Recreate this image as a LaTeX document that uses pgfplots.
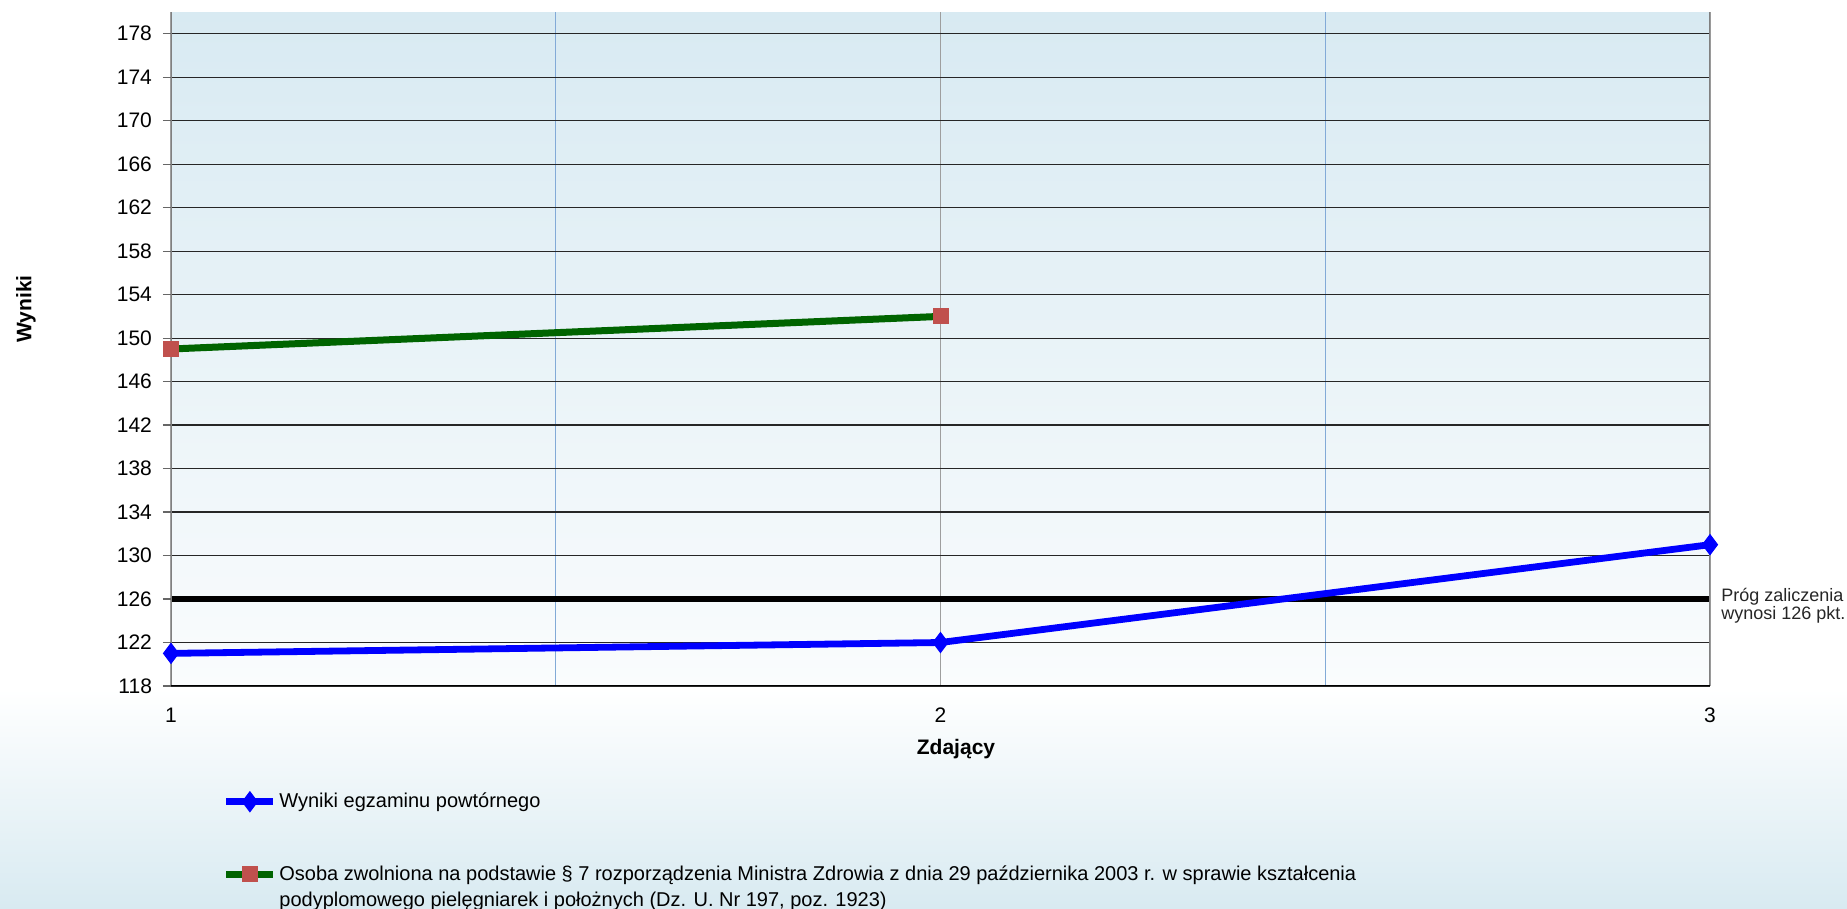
\documentclass[border=0pt]{standalone}
\usepackage{fontspec}
\setmainfont{Liberation Sans}
\usepackage{pgfplots}
\pgfplotsset{compat=1.18}
\definecolor{plottop}{RGB}{216,234,242}
\definecolor{plotbot}{RGB}{250,252,253}
\definecolor{pagebot}{RGB}{216,234,241}
\definecolor{gridblue}{RGB}{130,170,215}
\definecolor{markred}{RGB}{192,80,77}
\definecolor{darkgreen}{RGB}{0,100,0}
\begin{document}
\begin{tikzpicture}
\path[use as bounding box] (0,0) rectangle (923.5pt,454.5pt);
\fill[white] (0,0) rectangle (923.5pt,454.5pt);
\shade[top color=white, bottom color=pagebot] (0,0) rectangle (923.5pt,110pt);
\begin{axis}[
  at={(85.5pt,111.5pt)}, anchor=south west,
  scale only axis, width=769.5pt, height=337pt,
  xmin=1, xmax=3, ymin=118, ymax=180,
  xtick={1,2,3}, minor xtick={1.5,2.5},
  ytick={118,122,...,178}, ytick pos=left,
  /pgf/number format/assume math mode=true,
  tick label style={font=\fontsize{10.5}{12}\selectfont},
  xticklabel style={yshift=-3.5pt},
  yticklabel style={xshift=-2pt},
  tick align=outside, major tick length=4pt,
  xtick style={draw=none}, minor x tick style={draw=none},
  ytick style={draw=gray!80!black, line width=0.6pt},
  ymajorgrids, xmajorgrids, xminorgrids,
  major grid style={draw=black!85, line width=0.6pt},
  major x grid style={draw=black!38, line width=0.8pt},
  minor grid style={draw=gridblue, line width=0.6pt},
  axis line style={draw=none},
  axis background/.style={top color=plottop, bottom color=plotbot},
  legend style={at={(0,0)}, anchor=north west, xshift=25.75pt, yshift=-52pt,
    draw=none, fill=none, inner sep=0pt, row sep=25pt,
    font=\fontsize{10}{13}\selectfont, nodes={inner sep=1.25pt}},
  legend cell align=left,
  legend image code/.code={\draw[mark repeat=2,mark phase=2] plot coordinates {(0pt,0pt)(11.75pt,0pt)(23.5pt,0pt)};},
]
\addplot[black, line width=3.2pt, forget plot] coordinates {(1,126) (3,126)};
\addplot[blue, line width=3.4pt, mark=diamond*, mark size=5pt, mark options={fill=blue, draw=blue, line width=0.5pt}] coordinates {(1,121) (2,122) (3,131)};
\addlegendentry{Wyniki egzaminu powtórnego}
\addplot[darkgreen, line width=3.5pt, mark=square*, mark size=3.75pt, mark options={fill=markred, draw=markred, line width=0.5pt, rounded corners=1.2pt}] coordinates {(1,149) (2,152)};
\addlegendentry{\parbox[t]{600pt}{\raggedright Osoba zwolniona na podstawie § 7 rozporządzenia Ministra Zdrowia z dnia 29 października 2003 r. w sprawie kształcenia\\podyplomowego pielęgniarek i położnych (Dz. U. Nr 197, poz. 1923)}}
\draw[gray, line width=0.8pt] (rel axis cs:0,0) -- (rel axis cs:0,1);
\draw[gray, line width=0.8pt] (rel axis cs:1,0) -- (rel axis cs:1,1);
\draw[black, line width=0.8pt] (rel axis cs:0,0) -- (rel axis cs:1,0);
\end{axis}
\node[rotate=90, font=\bfseries\fontsize{10.5}{12}\selectfont] at (13pt,300pt) {Wyniki};
\node[font=\bfseries\fontsize{10.5}{12}\selectfont] at (478pt,80pt) {Zdający};
\node[anchor=west, align=left, inner sep=0pt, text=black!85, font=\fontsize{9}{9}\selectfont] at (860.5pt,151.8pt) {Próg zaliczenia\\wynosi 126 pkt.};
\end{tikzpicture}
\end{document}
